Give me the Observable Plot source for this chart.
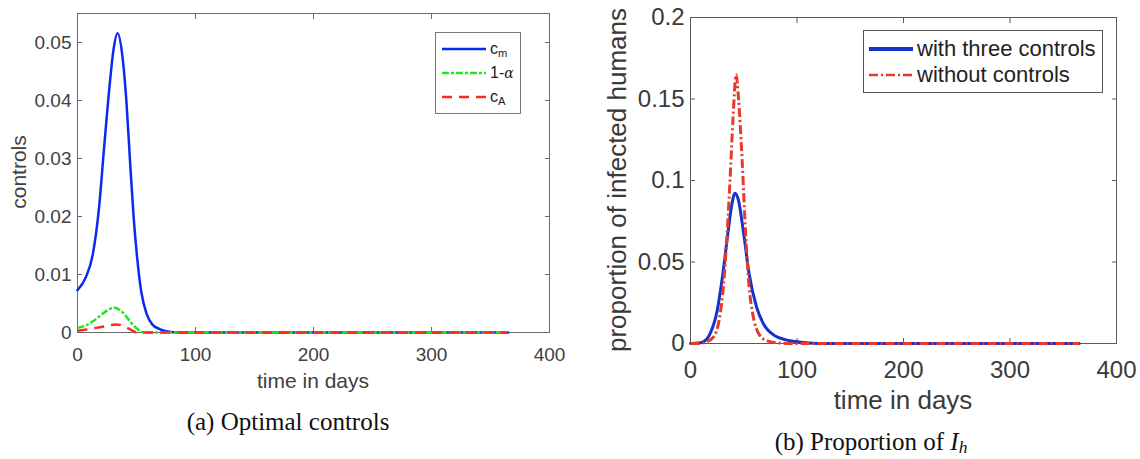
<!DOCTYPE html>
<html><head><meta charset="utf-8">
<script src="https://cdn.jsdelivr.net/npm/d3@7"></script>
<script src="https://cdn.jsdelivr.net/npm/@observablehq/plot@0.6"></script>
<style>
body{margin:0;background:#fff;width:1140px;height:459px;position:relative;overflow:hidden;font-family:"Liberation Sans",Arial,sans-serif;}
.abs{position:absolute;}
.c{position:absolute;transform:translate(-50%,-50%);white-space:nowrap;line-height:1;}
.r{position:absolute;transform:translate(-50%,-50%) rotate(-90deg);white-space:nowrap;line-height:1;}
.leg{position:absolute;background:#fff;box-sizing:border-box;}
.row{position:absolute;display:flex;align-items:center;white-space:nowrap;line-height:1;}
.cap{font-family:"Liberation Serif","Times New Roman",serif;color:#111;font-size:25px;}
sub{font-size:70%;vertical-align:-0.3em;line-height:0;}
.cap sub{vertical-align:-0.22em;}
</style></head><body>
<div id="a" class="abs" style="left:0;top:0"></div>
<div id="b" class="abs" style="left:580px;top:0"></div>

<div class="r" style="left:18px;top:172px;font-size:21px;color:#404040">controls</div>
<div class="c" style="left:313px;top:380px;font-size:21px;color:#404040">time in days</div>
<div class="c cap" style="left:288px;top:421px">(a) Optimal controls</div>

<div class="r" style="left:617px;top:180px;font-size:26px;color:#3a3a3a">proportion of infected humans</div>
<div class="c" style="left:903px;top:400px;font-size:26px;color:#3a3a3a">time in days</div>
<div class="c cap" style="left:871px;top:441px">(b) Proportion of <i>I<sub>h</sub></i></div>

<div class="leg" style="left:435px;top:32px;width:86px;height:82px;border:1px solid #777"></div>
<div class="row" style="left:442px;top:41px;height:16px;font-size:16px;color:#222">
  <svg width="44" height="16"><line x1="0" y1="8" x2="44" y2="8" stroke="#0a2af0" stroke-width="2.5"/></svg>
  <span style="margin-left:4px">c<sub>m</sub></span></div>
<div class="row" style="left:442px;top:65px;height:16px;font-size:16px;color:#222">
  <svg width="44" height="16"><line x1="0" y1="8" x2="44" y2="8" stroke="#22e622" stroke-width="2.5" stroke-dasharray="7,2,3,2"/></svg>
  <span style="margin-left:4px">1-<i style="font-family:'DejaVu Serif',serif;font-size:14px">α</i></span></div>
<div class="row" style="left:442px;top:89px;height:16px;font-size:16px;color:#222">
  <svg width="44" height="16"><line x1="0" y1="8" x2="44" y2="8" stroke="#ff2a1a" stroke-width="2.5" stroke-dasharray="10,7"/></svg>
  <span style="margin-left:4px">c<sub>A</sub></span></div>

<div class="leg" style="left:863px;top:30px;width:240px;height:63px;border:1px solid #555"></div>
<div class="row" style="left:869px;top:37px;height:24px;font-size:22px;color:#222">
  <svg width="44" height="24"><line x1="0" y1="12" x2="44" y2="12" stroke="#1533c9" stroke-width="4"/></svg>
  <span style="margin-left:4px">with three controls</span></div>
<div class="row" style="left:869px;top:63px;height:24px;font-size:22px;color:#222">
  <svg width="44" height="24"><line x1="0" y1="12" x2="44" y2="12" stroke="#e8392b" stroke-width="2.5" stroke-dasharray="9,3,2,3"/></svg>
  <span style="margin-left:4px">without controls</span></div>

<script>
// ---- data ----
const xTicks = [0, 100, 200, 300, 400];
const xTickLabels = ["0", "100", "200", "300", "400"];
const yTicksA = [0, 0.01, 0.02, 0.03, 0.04, 0.05];
const yTickLabelsA = ["0", "0.01", "0.02", "0.03", "0.04", "0.05"];
const yTicksB = [0, 0.05, 0.1, 0.15, 0.2];
const yTickLabelsB = ["0", "0.05", "0.1", "0.15", "0.2"];

const cmDays   = [0, 7, 13, 18, 22.6, 27.3, 30.4, 33.9, 38.2, 41.4, 44.5, 47.6, 50.8, 53.9, 58.6, 63.3, 69.6, 79, 90, 365];
const cmValues = [0.0073, 0.0095, 0.0135, 0.021, 0.032, 0.0428, 0.0486, 0.0516, 0.0474, 0.040, 0.0296, 0.0198, 0.0124, 0.0072, 0.0032, 0.0014, 0.0006, 0.0001, 0, 0];

const alphaDays   = [0, 8, 15, 21, 26, 30.5, 35, 40, 45, 49, 53, 57, 365];
const alphaValues = [0.0008, 0.0013, 0.0022, 0.0032, 0.0039, 0.0043, 0.0040, 0.0031, 0.0018, 0.0009, 0.0003, 0, 0];

const cADays   = [0, 8, 16, 24, 32, 38, 43, 47, 50, 365];
const cAValues = [0.0003, 0.0005, 0.0008, 0.0011, 0.0014, 0.0012, 0.0007, 0.0003, 0, 0];

const withDays   = [0, 8, 12, 18.4, 25, 30, 35, 38.5, 41.8, 45, 50, 55, 62, 68.6, 78.6, 88.6, 98.7, 108.7, 120, 365];
const withValues = [0, 0.0003, 0.001, 0.006, 0.020, 0.041, 0.067, 0.084, 0.0922, 0.088, 0.067, 0.043, 0.0224, 0.012, 0.005, 0.0024, 0.0012, 0.0004, 0, 0];

const withoutDays   = [0, 10, 15, 21.7, 26.8, 30, 33.4, 36.8, 40, 42.8, 45, 48.5, 51.8, 55, 58.5, 65, 72, 82, 95, 365];
const withoutValues = [0, 0.0002, 0.001, 0.004, 0.014, 0.029, 0.057, 0.096, 0.139, 0.165, 0.151, 0.112, 0.067, 0.035, 0.018, 0.005, 0.0016, 0.0004, 0, 0];

const rows = (ts, vs) => ts.map((t, i) => ({t, v: vs[i]}));
const fmt = (ticks, labels) => d => labels[ticks.indexOf(d)] ?? "";

function frameAxes(yTicks, yLabels, fs, padX, padY, col) {
  return [
    Plot.frame({stroke: col}),
    Plot.axisX({anchor: "bottom", ticks: xTicks, tickSize: -5, tickPadding: padX, tickFormat: fmt(xTicks, xTickLabels), fontSize: fs, label: null, stroke: col}),
    Plot.axisX({anchor: "top", ticks: xTicks, tickSize: -5, tickFormat: () => "", label: null, stroke: col}),
    Plot.axisY({anchor: "left", ticks: yTicks, tickSize: -5, tickPadding: padY, tickFormat: fmt(yTicks, yLabels), fontSize: fs, label: null, stroke: col}),
    Plot.axisY({anchor: "right", ticks: yTicks, tickSize: -5, tickFormat: () => "", label: null, stroke: col})
  ];
}

const plotA = Plot.plot({
  width: 580, height: 400,
  marginLeft: 77, marginRight: 31, marginTop: 13, marginBottom: 68,
  x: {domain: [0, 400]},
  y: {domain: [0, 0.055]},
  style: {fontFamily: "Liberation Sans, Arial, sans-serif", color: "#404040", background: "transparent", overflow: "visible"},
  marks: [
    ...frameAxes(yTicksA, yTickLabelsA, 19, 20, 11, "#6b6b6b"),
    Plot.line(rows(cmDays, cmValues), {x: "t", y: "v", stroke: "#0a2af0", strokeWidth: 2.5, curve: "monotone-x"}),
    Plot.line(rows(alphaDays, alphaValues), {x: "t", y: "v", stroke: "#22e622", strokeWidth: 2.5, strokeDasharray: "7,2,3,2", strokeLinecap: "butt", curve: "monotone-x"}),
    Plot.line(rows(cADays, cAValues), {x: "t", y: "v", stroke: "#ff2a1a", strokeWidth: 2.5, strokeDasharray: "10,7", strokeLinecap: "butt", curve: "monotone-x"})
  ]
});
document.getElementById("a").appendChild(plotA);

const plotB = Plot.plot({
  width: 560, height: 420,
  marginLeft: 110, marginRight: 24, marginTop: 17, marginBottom: 77,
  x: {domain: [0, 400]},
  y: {domain: [0, 0.2]},
  style: {fontFamily: "Liberation Sans, Arial, sans-serif", color: "#3a3a3a", background: "transparent", overflow: "visible"},
  marks: [
    ...frameAxes(yTicksB, yTickLabelsB, 24, 22, 11, "#5a5a5a"),
    Plot.line(rows(withDays, withValues), {x: "t", y: "v", stroke: "#1533c9", strokeWidth: 3, curve: "monotone-x"}),
    Plot.line(rows(withoutDays, withoutValues), {x: "t", y: "v", stroke: "#e8392b", strokeWidth: 3, strokeDasharray: "9,3,2,3", strokeLinecap: "butt", curve: "monotone-x"})
  ]
});
document.getElementById("b").appendChild(plotB);
</script>
</body></html>
